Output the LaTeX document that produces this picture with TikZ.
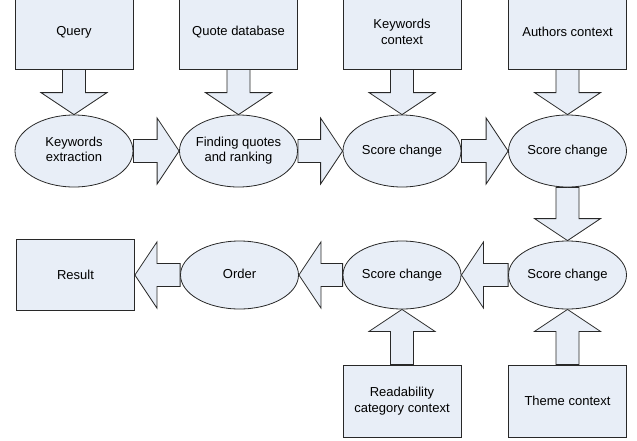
\documentclass[tikz,border=0pt]{standalone}
\usepackage{fontspec}
\setmainfont{Liberation Sans}
\usetikzlibrary{calc,shapes.geometric}
\pgfdeclarelayer{background}
\pgfsetlayers{background,main}
\definecolor{boxfill}{RGB}{232,238,247}
\definecolor{edgecol}{RGB}{40,40,40}
\newcommand\zw[1]{\makebox[0pt]{\begin{tabular}{@{}c@{}}#1\end{tabular}}}
\newcommand\blockarrow[2]{%
  \begin{pgfonlayer}{background}
  \draw[barrow] let \p1=(#1), \p2=(#2),
      \n1={atan2(\y2-\y1,\x2-\x1)}, \n2={veclen(\x2-\x1,\y2-\y1)} in
    [shift={(\p1)}, rotate=\n1]
    (0pt,-11.5pt) -- ({\n2-22pt},-11.5pt) -- ({\n2-22pt},-33pt) -- ({\n2},0pt)
    -- ({\n2-22pt},33pt) -- ({\n2-22pt},11.5pt) -- (0pt,11.5pt) -- cycle;
  \end{pgfonlayer}}
\tikzset{
  basefont/.style={font=\fontsize{13}{15.5}\selectfont},
  box/.style={basefont, draw=edgecol, fill=boxfill, line width=0.8pt,
    minimum width=118pt, minimum height=74pt, inner sep=0pt, align=center},
  oval/.style={basefont, ellipse, draw=edgecol, fill=boxfill, line width=0.8pt,
    minimum width=118pt, minimum height=72pt, inner sep=0pt},
  barrow/.style={draw=edgecol, fill=boxfill, line width=0.8pt, line join=miter}
}
\begin{document}
\begin{tikzpicture}[x=1pt,y=-1pt]
\useasboundingbox (0,0) rectangle (637,440);
\clip (0,0) rectangle (637,440);
% top row boxes
\node[box] (q)  at (74,32)    {Query};
\node[box] (qd) at (238.5,32) {Quote database};
\node[box] (kc) at (402,32)   {Keywords\\context};
\node[box] (ac) at (567.5,32) {Authors context};
% first row ellipses
\node[oval] (e1) at (74,151)    {\zw{Keywords\\extraction}};
\node[oval] (e2) at (238.5,151) {\zw{Finding quotes\\and ranking}};
\node[oval] (e3) at (402,151)   {\zw{Score change}};
\node[oval] (e4) at (567.5,151) {\zw{Score change}};
% second row
\node[box, minimum height=71pt] (res) at (75.5,275) {Result};
\node[oval, minimum height=68pt] (ord) at (239.5,275) {\zw{Order}};
\node[oval, minimum height=68pt] (f2) at (402,275)   {\zw{Score change}};
\node[oval, minimum height=68pt] (f1) at (567.5,275) {\zw{Score change}};
% bottom boxes
\node[box, minimum height=72pt] (rd) at (402,401)   {Readability\\category context};
\node[box, minimum height=72pt] (th) at (567.5,401) {Theme context};
% block arrows
\blockarrow{q.south}{e1.north}
\blockarrow{qd.south}{e2.north}
\blockarrow{kc.south}{e3.north}
\blockarrow{ac.south}{e4.north}
\blockarrow{e1.east}{e2.west}
\blockarrow{e2.east}{e3.west}
\blockarrow{e3.east}{e4.west}
\blockarrow{e4.south}{f1.north}
\blockarrow{f1.west}{f2.east}
\blockarrow{f2.west}{ord.east}
\blockarrow{ord.west}{res.east}
\blockarrow{th.north}{f1.south}
\blockarrow{rd.north}{f2.south}
\end{tikzpicture}
\end{document}
